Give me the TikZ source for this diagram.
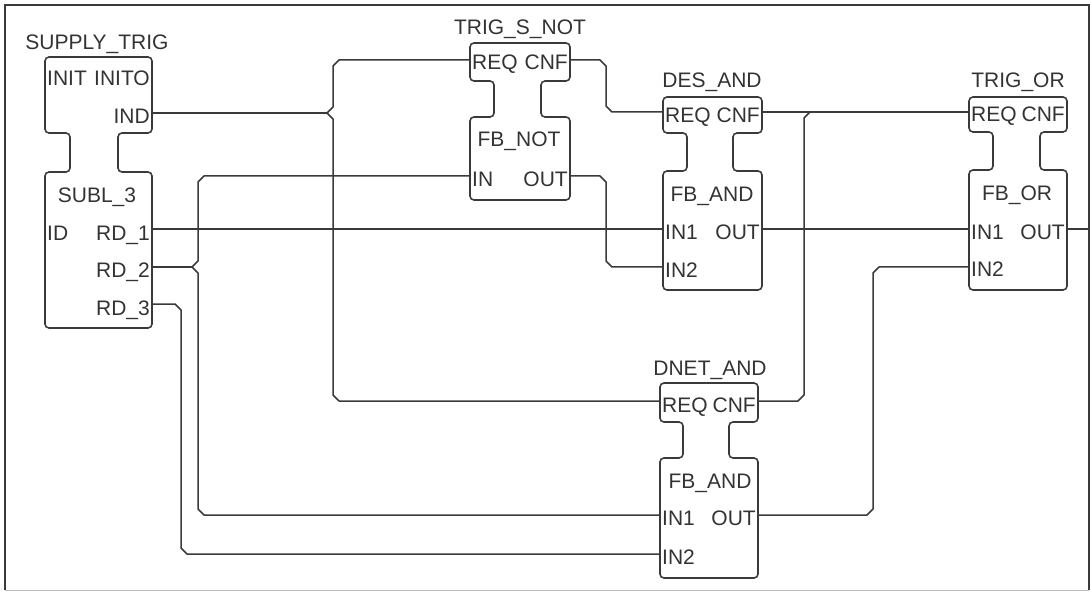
\documentclass[tikz,border=0pt]{standalone}
\usepackage{fontspec}
\setmainfont{Liberation Sans}
\definecolor{ink}{HTML}{333333}
\definecolor{wirec}{HTML}{3A3A3A}
\newcommand\fbshape[8]{%
  \draw[blockline] ({(#1+#2)/2},#3) -- (#2,#3) -- (#2,#4) -- (#8,#4) -- (#8,#5) -- (#2,#5) -- (#2,#6) -- (#1,#6) -- (#1,#5) -- (#7,#5) -- (#7,#4) -- (#1,#4) -- (#1,#3) -- cycle;}
\begin{document}
\begin{tikzpicture}[x=1pt,y=-1pt,
  blockline/.style={draw=wirec,line width=1.6pt,rounded corners=4pt},
  wire/.style={draw=wirec,line width=1.5pt,line join=round},
  lbl/.style={font=\fontsize{21}{24}\selectfont,text=ink,inner sep=0pt}]
\useasboundingbox (0,0) rectangle (1091,593);
% frame
\draw[wirec,line width=1.5pt] (5,590) -- (5,5) -- (1089,5) -- (1089,590);
\draw[black!25,line width=1pt] (5,590) -- (1089,590);

% ---------- SUPPLY_TRIG ----------
\fbshape{45}{152}{57}{133}{172}{328}{70}{118}
\node[lbl,anchor=base] (st-title) at (97,50) {SUPPLY\_TRIG};
\node[lbl,anchor=base west] (st-init) at (47,86) {INIT};
\node[lbl,anchor=base east] (st-inito) at (150,86) {INITO};
\node[lbl,anchor=base east] (st-indl) at (150,124) {IND};
\node[lbl,anchor=base] (st-type) at (97,203) {SUBL\_3};
\node[lbl,anchor=base west] (st-id) at (47,241) {ID};
\node[lbl,anchor=base east] (st-rd1l) at (150,241) {RD\_1};
\node[lbl,anchor=base east] (st-rd2l) at (150,278) {RD\_2};
\node[lbl,anchor=base east] (st-rd3l) at (150,316) {RD\_3};
\coordinate (st-ind) at (152,113);
\coordinate (st-rd1) at (152,229);
\coordinate (st-rd2) at (152,267);
\coordinate (st-rd3) at (152,304);

% ---------- TRIG_S_NOT ----------
\fbshape{470}{570}{43}{81}{117}{200}{494}{541}
\node[lbl,anchor=base] (tsn-title) at (520,35) {TRIG\_S\_NOT};
\node[lbl,anchor=base west] (tsn-reql) at (472,70) {REQ};
\node[lbl,anchor=base east] (tsn-cnfl) at (568,70) {CNF};
\node[lbl,anchor=base] (tsn-type) at (519,147) {FB\_NOT};
\node[lbl,anchor=base west] (tsn-inl) at (472,187) {IN};
\node[lbl,anchor=base east] (tsn-outl) at (568,187) {OUT};
\coordinate (tsn-req) at (470,60);
\coordinate (tsn-cnf) at (570,60);
\coordinate (tsn-in) at (470,176);
\coordinate (tsn-out) at (570,176);

% ---------- DES_AND ----------
\fbshape{663}{762}{97}{133}{171}{290}{687}{733}
\node[lbl,anchor=base] (des-title) at (712,88) {DES\_AND};
\node[lbl,anchor=base west] (des-reql) at (665,123) {REQ};
\node[lbl,anchor=base east] (des-cnfl) at (760,123) {CNF};
\node[lbl,anchor=base] (des-type) at (712,202) {FB\_AND};
\node[lbl,anchor=base west] (des-in1l) at (665,240) {IN1};
\node[lbl,anchor=base east] (des-outl) at (760,240) {OUT};
\node[lbl,anchor=base west] (des-in2l) at (665,278) {IN2};
\coordinate (des-req) at (663,112);
\coordinate (des-cnf) at (762,112);
\coordinate (des-in1) at (663,229);
\coordinate (des-in2) at (663,267);
\coordinate (des-out) at (762,229);

% ---------- TRIG_OR ----------
\fbshape{969}{1067}{97}{132}{170}{290}{993}{1040}
\node[lbl,anchor=base] (tor-title) at (1018,88) {TRIG\_OR};
\node[lbl,anchor=base west] (tor-reql) at (971,122) {REQ};
\node[lbl,anchor=base east] (tor-cnfl) at (1065,122) {CNF};
\node[lbl,anchor=base] (tor-type) at (1017,201) {FB\_OR};
\node[lbl,anchor=base west] (tor-in1l) at (971,240) {IN1};
\node[lbl,anchor=base east] (tor-outl) at (1065,240) {OUT};
\node[lbl,anchor=base west] (tor-in2l) at (971,277) {IN2};
\coordinate (tor-req) at (969,112);
\coordinate (tor-in1) at (969,229);
\coordinate (tor-in2) at (969,267);
\coordinate (tor-out) at (1067,229);
\coordinate (outend) at (1089,229);

% ---------- DNET_AND ----------
\fbshape{660}{758}{383}{422}{458}{578}{683}{729}
\node[lbl,anchor=base] (dn-title) at (710,375) {DNET\_AND};
\node[lbl,anchor=base west] (dn-reql) at (662,412) {REQ};
\node[lbl,anchor=base east] (dn-cnfl) at (756,412) {CNF};
\node[lbl,anchor=base] (dn-type) at (710,488) {FB\_AND};
\node[lbl,anchor=base west] (dn-in1l) at (662,525) {IN1};
\node[lbl,anchor=base east] (dn-outl) at (756,525) {OUT};
\node[lbl,anchor=base west] (dn-in2l) at (662,564) {IN2};
\coordinate (dn-req) at (660,401);
\coordinate (dn-cnf) at (758,401);
\coordinate (dn-in1) at (660,515);
\coordinate (dn-in2) at (660,554);
\coordinate (dn-out) at (758,515);

% ---------- junctions ----------
\coordinate (j-ind) at (327,113);
\coordinate (j-rd2) at (192,267);

% ---------- connectors ----------
\draw[wire] (st-ind) -- (j-ind);
\draw[wire] (j-ind) -- (333,107) -- (333,66) -- (339,60) -- (tsn-req);
\draw[wire] (j-ind) -- (333,119) -- (333,395) -- (339,401) -- (dn-req);
\draw[wire] (st-rd1) -- (des-in1);
\draw[wire] (st-rd2) -- (j-rd2);
\draw[wire] (j-rd2) -- (198,261) -- (198,182) -- (204,176) -- (tsn-in);
\draw[wire] (j-rd2) -- (198,273) -- (198,509) -- (204,515) -- (dn-in1);
\draw[wire] (st-rd3) -- (175,304) -- (181,310) -- (181,548) -- (187,554) -- (dn-in2);
\draw[wire] (tsn-cnf) -- (600,60) -- (606,66) -- (606,106) -- (612,112) -- (des-req);
\draw[wire] (tsn-out) -- (600,176) -- (606,182) -- (606,261) -- (612,267) -- (des-in2);
\draw[wire] (des-cnf) -- (tor-req);
\draw[wire] (dn-cnf) -- (798,401) -- (804,395) -- (804,118) -- (810,112);
\draw[wire] (des-out) -- (tor-in1);
\draw[wire] (dn-out) -- (867,515) -- (873,509) -- (873,273) -- (879,267) -- (tor-in2);
\draw[wire] (tor-out) -- (outend);
\end{tikzpicture}
\end{document}
